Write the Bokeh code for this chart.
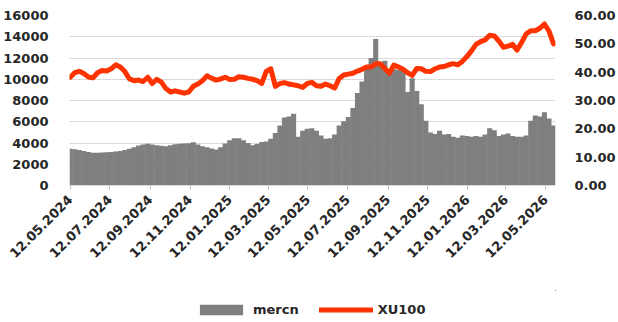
from datetime import datetime
import math
from bokeh.plotting import figure
from bokeh.layouts import column
from bokeh.models import (ColumnDataSource, Range1d, LinearAxis, FixedTicker,
                          NumeralTickFormatter, Legend, LegendItem)
from bokeh.embed import file_html
from bokeh.resources import INLINE

# weekly observations starting 12.05.2024
start_date = "12.05.2024"
mercn = [3450, 3420, 3350, 3250, 3150, 3080, 3080, 3100, 3130, 3150,
         3200, 3240, 3330, 3450, 3600, 3760, 3850, 3920, 3850, 3800,
         3750, 3700, 3800, 3880, 3930, 3950, 3980, 4080, 3850, 3700,
         3600, 3480, 3380, 3600, 3950, 4250, 4450, 4450, 4250, 4000,
         3800, 3900, 4100, 4150, 4400, 4950, 5650, 6400, 6500, 6750,
         4600, 5150, 5350, 5400, 5150, 4700, 4400, 4450, 4800, 5650,
         6050, 6450, 7300, 8700, 9800, 11000, 12000, 13800, 11500, 11750,
         10700, 10950, 10900, 10800, 8800, 10100, 8900, 7650, 6100, 5000,
         4850, 5150, 4800, 4850, 4600, 4500, 4700, 4650, 4600, 4650,
         4600, 4800, 5400, 5200, 4650, 4800, 4900, 4650, 4600, 4600,
         4700, 6100, 6600, 6500, 6900, 6300, 5650]
xu100 = [38.2, 39.8, 40.3, 39.5, 38.3, 38.0, 39.8, 40.6, 40.4, 41.2,
         42.6, 41.8, 40.2, 37.6, 37.0, 37.2, 36.7, 38.2, 36.0, 37.5,
         36.5, 34.2, 33.0, 33.4, 33.0, 32.6, 33.0, 35.0, 35.8, 37.0,
         38.7, 37.9, 37.2, 37.6, 38.2, 37.4, 37.5, 38.4, 38.2, 37.8,
         37.5, 37.0, 36.0, 40.3, 41.2, 35.0, 36.0, 36.3, 35.8, 35.5,
         35.2, 34.6, 36.0, 36.4, 35.2, 35.0, 35.8, 35.2, 34.4, 37.8,
         39.0, 39.3, 39.6, 40.4, 41.0, 41.8, 41.8, 43.0, 43.0, 41.3,
         39.6, 42.5, 41.8, 41.0, 39.8, 38.9, 41.3, 41.2, 40.3, 40.2,
         41.2, 41.8, 42.0, 42.6, 43.0, 42.6, 43.8, 45.5, 47.5, 49.8,
         50.8, 51.4, 53.0, 52.8, 51.0, 48.8, 49.2, 49.8, 47.8, 50.5,
         53.5, 54.6, 54.6, 55.5, 57.0, 54.5, 50.0]
tick_labels = ["12.05.2024", "12.07.2024", "12.09.2024", "12.11.2024",
               "12.01.2025", "12.03.2025", "12.05.2025", "12.07.2025",
               "12.09.2025", "12.11.2025", "12.01.2026", "12.03.2026",
               "12.05.2026"]
left_ticks = [0, 2000, 4000, 6000, 8000, 10000, 12000, 14000, 16000]
right_ticks = [0, 10, 20, 30, 40, 50, 60]
series_names = ["mercn", "XU100"]

d0 = datetime.strptime(start_date, "%d.%m.%Y")
xs = [7 * i for i in range(len(mercn))]
tick_pos = [(datetime.strptime(t, "%d.%m.%Y") - d0).days for t in tick_labels]

src = ColumnDataSource(dict(x=xs, mercn=mercn, xu=xu100))

FONT = "DejaVu Sans"
TXT = "#262626"
GRAY = "#7f7f7f"
RED = "#ff3300"

p = figure(width=618, height=290, output_backend="svg", toolbar_location=None,
           x_range=Range1d(-1, 745), y_range=Range1d(0, 16000),
           min_border_left=68, min_border_right=57, min_border_top=15,
           min_border_bottom=105)
p.extra_y_ranges = {"xu": Range1d(0, 60)}
p.outline_line_color = None
p.background_fill_color = "white"

p.vbar(x="x", top="mercn", width=7.8, bottom=0, source=src,
       fill_color=GRAY, line_color=None)
p.line(x="x", y="xu", source=src, y_range_name="xu",
       line_color=RED, line_width=5, line_join="round", line_cap="round")

# x axis
xa = p.xaxis[0]
xa.ticker = FixedTicker(ticks=tick_pos)
xa.major_label_overrides = {tp: lab for tp, lab in zip(tick_pos, tick_labels)}
xa.major_label_orientation = math.pi / 4
xa.axis_line_color = "#d9d9d9"
xa.major_tick_line_color = "#bfbfbf"
xa.major_tick_out = 4
xa.major_tick_in = 0
xa.minor_tick_line_color = None
xa.major_label_standoff = 8
xa.major_label_text_font = FONT
xa.major_label_text_font_style = "bold"
xa.major_label_text_font_size = "13px"
xa.major_label_text_color = TXT

# left axis
ya = p.yaxis[0]
ya.ticker = FixedTicker(ticks=left_ticks)
ya.formatter = NumeralTickFormatter(format="0")
ya.axis_line_color = None
ya.major_tick_line_color = None
ya.minor_tick_line_color = None
ya.major_label_standoff = 15
ya.major_label_text_font = FONT
ya.major_label_text_font_style = "bold"
ya.major_label_text_font_size = "13px"
ya.major_label_text_color = TXT

# right axis
ra = LinearAxis(y_range_name="xu", ticker=FixedTicker(ticks=right_ticks),
                formatter=NumeralTickFormatter(format="0.00"))
ra.axis_line_color = None
ra.major_tick_line_color = None
ra.minor_tick_line_color = None
ra.major_label_standoff = 13
ra.major_label_text_font = FONT
ra.major_label_text_font_style = "bold"
ra.major_label_text_font_size = "13px"
ra.major_label_text_color = TXT
p.add_layout(ra, "right")

p.xgrid.visible = False
p.ygrid.grid_line_color = "#c8c8c8"
p.ygrid.grid_line_dash = "2 1"
p.ygrid.grid_line_width = 1

# legend strip below the chart (same series, drawn off-range so only the legend shows)
lg = figure(width=618, height=32, output_backend="svg", toolbar_location=None,
            x_range=Range1d(-100000, -99999), y_range=Range1d(-100000, -99999),
            x_axis_location=None, y_axis_location=None,
            min_border_left=0, min_border_right=0, min_border_top=0,
            min_border_bottom=0)
lg.outline_line_color = None
lg.grid.visible = False
r_bar = lg.vbar(x="x", top="mercn", width=7.8, bottom=0, source=src,
                fill_color=GRAY, line_color=None)
r_line = lg.line(x="x", y="xu", source=src, line_color=RED, line_width=5,
                 line_cap="round")

legend = Legend(items=[LegendItem(label=series_names[0], renderers=[r_bar]),
                       LegendItem(label=series_names[1], renderers=[r_line])],
                orientation="horizontal", location=(125, 5))
legend.glyph_width = 54
legend.glyph_height = 13
legend.label_standoff = 5
legend.spacing = 20
legend.padding = 0
legend.margin = 0
legend.border_line_color = None
legend.background_fill_alpha = 0
legend.label_text_font = FONT
legend.label_text_font_style = "bold"
legend.label_text_font_size = "13px"
legend.label_text_color = TXT
lg.add_layout(legend, "center")

layout = column(p, lg, spacing=0)
open("out.html", "w").write(file_html(layout, INLINE))
